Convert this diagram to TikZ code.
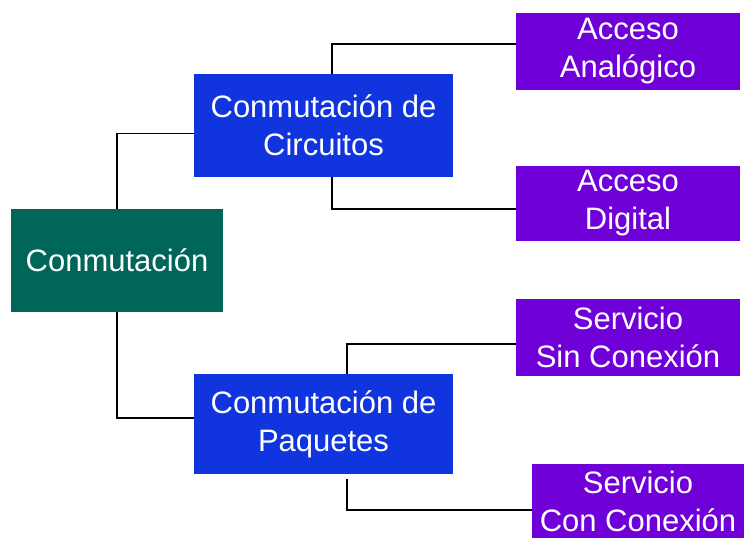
\documentclass[tikz,border=0pt]{standalone}
\usepackage{fontspec}
\setmainfont{Liberation Sans}
\definecolor{teal}{RGB}{0,102,90}
\definecolor{azul}{RGB}{16,52,222}
\definecolor{lila}{RGB}{112,0,216}
\begin{document}
\begin{tikzpicture}[x=1pt,y=-1pt,
  caja/.style={rectangle,inner sep=0pt,text=white,align=center,
    font=\fontsize{31}{38}\selectfont},
  linea/.style={line width=1.3pt}]
\useasboundingbox (0,0) rectangle (744,538);
\node[caja,fill=teal,minimum width=212pt,minimum height=103pt] (conm) at (117,260.5) {Conmutación};
\node[caja,fill=azul,minimum width=259pt,minimum height=103pt] (circ) at (323.5,125.5) {Conmutación de\\Circuitos};
\node[caja,fill=azul,minimum width=259pt,minimum height=100pt] (paq) at (323.5,424) {Conmutación de\\Paquetes};
\node[caja,fill=lila,minimum width=224pt,minimum height=77pt] (analog) at (628,51.5) {Acceso\\Analógico};
\node[caja,fill=lila,minimum width=224pt,minimum height=75pt] (digital) at (628,203.5) {Acceso\\Digital};
\node[caja,fill=lila,minimum width=224pt,minimum height=77pt] (sincon) at (628,337.5) {Servicio\\Sin Conexión};
\node[caja,fill=lila,minimum width=212pt,minimum height=74pt] (concon) at (638,501) {Servicio\\Con Conexión};
\draw[linea] (conm.north) |- ([yshift=-8pt]circ.west);
\draw[linea] (conm.south) |- ([yshift=6pt]paq.west);
\draw[linea] ([xshift=8.5pt]circ.north) |- ([yshift=7.5pt]analog.west);
\draw[linea] ([xshift=8.5pt]circ.south) |- ([yshift=-5.5pt]digital.west);
\draw[linea] ([xshift=23.5pt]paq.north) |- ([yshift=-6.5pt]sincon.west);
\draw[linea] ([xshift=23.5pt,yshift=-5pt]paq.south) |- ([yshift=-9pt]concon.west);
\end{tikzpicture}
\end{document}
